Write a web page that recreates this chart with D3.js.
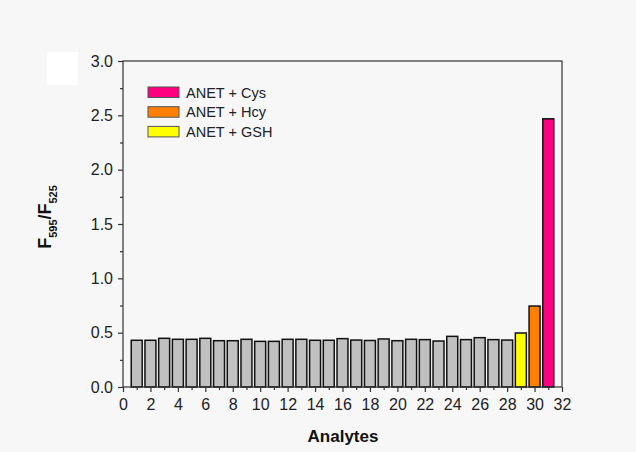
<!DOCTYPE html>
<html>
<head>
<meta charset="utf-8">
<script src="https://cdn.jsdelivr.net/npm/d3@7"></script>
<style>
  body { margin: 0; background: #f7f7f7; }
  text { font-family: "Liberation Sans", Arial, sans-serif; }
</style>
</head>
<body>
<div id="chart"></div>
<script>
// analyte index 1..31 and F595/F525 ratio
var analytes = d3.range(1, 32);
var ratios = [0.43, 0.43, 0.448, 0.439, 0.439, 0.448, 0.426, 0.426, 0.439, 0.42,
              0.42, 0.439, 0.439, 0.43, 0.43, 0.445, 0.432, 0.428, 0.442, 0.426,
              0.439, 0.436, 0.423, 0.466, 0.436, 0.454, 0.436, 0.432, 0.497, 0.745,
              2.468];
var barColors = d3.range(28).map(function() { return "#c0c0c0"; })
                  .concat(["#ffff00", "#ff8000", "#ff0080"]);
var legendLabels = ["ANET + Cys", "ANET + Hcy", "ANET + GSH"];
var legendColors = ["#ff0080", "#ff8000", "#ffff00"];
var xTicks = d3.range(0, 33, 2);
var yTicks = [0, 0.5, 1.0, 1.5, 2.0, 2.5, 3.0];

var width = 636,
    height = 452,
    margin = {top: 61, right: 74, bottom: 65, left: 123};

var svg = d3.select("#chart")
            .append("svg")
            .attr("width", width)
            .attr("height", height);

svg.append("rect")
   .attr("width", width).attr("height", height)
   .attr("fill", "#f7f7f7");

// white patch at top left as in the scan
svg.append("rect")
   .attr("x", 47).attr("y", 52).attr("width", 31).attr("height", 33)
   .attr("fill", "#ffffff");

var x = d3.scaleLinear().domain([0, 32]).range([margin.left, width - margin.right]);
var y = d3.scaleLinear().domain([0, 3]).range([height - margin.bottom, margin.top]);

var bw = (x(1) - x(0)) * 0.8;

/* bars */
svg.append("g")
   .selectAll("rect")
   .data(ratios)
   .enter().append("rect")
     .attr("x", function(d, i) { return x(analytes[i]) - bw / 2; })
     .attr("y", function(d) { return y(d); })
     .attr("width", bw)
     .attr("height", function(d) { return y(0) - y(d); })
     .attr("fill", function(d, i) { return barColors[i]; })
     .attr("stroke", "#111")
     .attr("stroke-width", 1.5);

/* frame */
svg.append("rect")
   .attr("x", x(0)).attr("y", y(3))
   .attr("width", x(32) - x(0)).attr("height", y(0) - y(3))
   .attr("fill", "none")
   .attr("stroke", "#333")
   .attr("stroke-width", 1.2);

/* x axis */
var xAxis = svg.append("g")
   .attr("transform", "translate(0," + y(0) + ")")
   .call(d3.axisBottom(x).tickValues(xTicks).tickSize(5).tickPadding(7).tickFormat(d3.format("d")));
xAxis.append("g")
   .call(d3.axisBottom(x).tickValues(d3.range(1, 32, 2)).tickSize(3).tickFormat(""));

/* y axis */
var yAxis = svg.append("g")
   .attr("transform", "translate(" + x(0) + ",0)")
   .call(d3.axisLeft(y).tickValues(yTicks).tickSize(5).tickPadding(5).tickFormat(d3.format(".1f")));
yAxis.append("g")
   .call(d3.axisLeft(y).tickValues(d3.range(0.25, 3, 0.5)).tickSize(3).tickFormat(""));

svg.selectAll(".domain").remove();
svg.selectAll(".tick line").attr("stroke", "#333").attr("stroke-width", 1.2);
svg.selectAll(".tick text")
   .attr("font-size", 16)
   .attr("font-family", "Liberation Sans, Arial, sans-serif")
   .attr("fill", "#222");

/* axis titles */
svg.append("text")
   .attr("x", 343).attr("y", 442)
   .attr("text-anchor", "middle")
   .attr("font-size", 17)
   .attr("font-weight", "bold")
   .attr("fill", "#111")
   .text("Analytes");

var yt = svg.append("text")
   .attr("transform", "translate(51,217) rotate(-90)")
   .attr("text-anchor", "middle")
   .attr("font-size", 18)
   .attr("font-weight", "bold")
   .attr("fill", "#111");
yt.append("tspan").text("F");
yt.append("tspan").attr("font-size", 11).attr("dy", 6).text("595");
yt.append("tspan").attr("dy", -6).text("/F");
yt.append("tspan").attr("font-size", 11).attr("dy", 6).text("525");

/* legend */
var legend = svg.append("g")
   .selectAll("g")
   .data(legendLabels)
   .enter().append("g")
     .attr("transform", function(d, i) { return "translate(148," + (87 + i * 19.7) + ")"; });

legend.append("rect")
   .attr("width", 31).attr("height", 10.5)
   .attr("fill", function(d, i) { return legendColors[i]; })
   .attr("stroke", "#555")
   .attr("stroke-width", 1);

legend.append("text")
   .attr("x", 38).attr("y", 10.5)
   .attr("font-size", 14.5)
   .attr("fill", "#222")
   .text(function(d) { return d; });
</script>
</body>
</html>
